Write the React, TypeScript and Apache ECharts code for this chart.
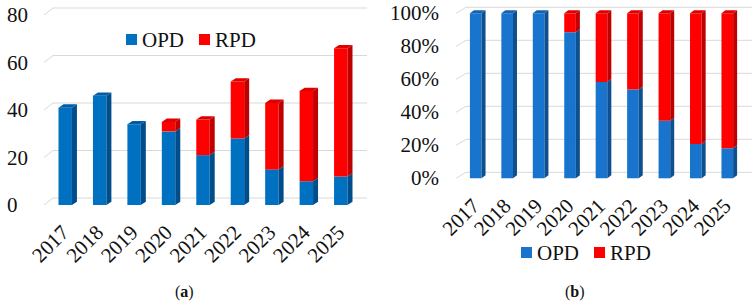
import React, { useEffect, useRef } from "react";
import * as echarts from "echarts";

const years = ["2017", "2018", "2019", "2020", "2021", "2022", "2023", "2024", "2025"];
const opd = [41, 46, 34, 31, 21, 28, 15, 10, 12];
const rpd = [0, 0, 0, 4, 15, 24, 28, 38, 54];
const ticksA = [0, 20, 40, 60, 80];
const ticksB = [0, 20, 40, 60, 80, 100];

const FONT = "Liberation Serif";
const TXT = "#111";
const FS = 21;

// derived shares for panel (b)
const opdPct = opd.map((v, i) => (v / (v + rpd[i])) * 100);
const rpdPct = rpd.map((v, i) => (v / (v + opd[i])) * 100);

function segs(lo: number[], hi: number[], topFlag: boolean[]) {
  return lo.map((l, i) => [i, l, hi[i], topFlag[i] ? 1 : 0]);
}

function barRenderer(front: string, side: string, top: string, ratio: number, dx: number, dy: number) {
  return (params: any, api: any) => {
    const i = api.value(0);
    const lo = api.value(1);
    const hi = api.value(2);
    const isTop = api.value(3);
    if (!(hi > lo)) return null;
    const bw = api.size([1, 0])[0] * ratio;
    const pHi = api.coord([i, hi]);
    const pLo = api.coord([i, lo]);
    const cx = pHi[0];
    const y1 = pHi[1];
    const y0 = pLo[1];
    const x0 = cx - bw / 2;
    const x1 = cx + bw / 2;
    const children: any[] = [
      { type: "rect", shape: { x: x0, y: y1, width: bw, height: y0 - y1 }, style: { fill: front } },
      {
        type: "polygon",
        shape: { points: [[x1, y1], [x1 + dx, y1 - dy], [x1 + dx, y0 - dy], [x1, y0]] },
        style: { fill: side },
      },
    ];
    if (isTop) {
      children.push({
        type: "polygon",
        shape: { points: [[x0, y1], [x0 + dx, y1 - dy], [x1 + dx, y1 - dy], [x1, y1]] },
        style: { fill: top },
      });
    }
    return { type: "group", children };
  };
}

function gridRenderer(offL: number, dx: number, dy: number, extR: number) {
  return (params: any, api: any) => {
    const cs = params.coordSys;
    const y = api.coord([0, api.value(1)])[1];
    return {
      type: "polyline",
      shape: {
        points: [
          [cs.x - offL, y],
          [cs.x + dx, y - dy],
          [cs.x + cs.width + extR, y - dy],
        ],
      },
      style: { stroke: "#d9d9d9", lineWidth: 1, fill: "none" },
    };
  };
}

export default function App() {
  const ref = useRef<HTMLDivElement>(null);
  useEffect(() => {
    if (!ref.current) return;
    const chart = echarts.init(ref.current, undefined, { renderer: "svg" });
    const total = opd.map((v, i) => v + rpd[i]);
    const rpdPresent = rpd.map((v) => v > 0);
    const opdTop = rpdPresent.map((p) => !p);

    const axisLabelX = {
      rotate: 45,
      fontSize: FS,
      fontFamily: FONT,
      color: TXT,
      margin: 24,
      interval: 0,
    };

    const option: any = {
      animation: false,
      textStyle: { fontFamily: FONT },
      grid: [
        { left: 48, top: 15, width: 310, height: 190 },
        { left: 460, top: 13.3, width: 283, height: 165 },
      ],
      xAxis: [
        {
          type: "category",
          gridIndex: 0,
          data: years,
          axisLine: { show: false },
          axisTick: { show: false },
          axisLabel: axisLabelX,
        },
        {
          type: "category",
          gridIndex: 1,
          data: years,
          axisLine: { show: false },
          axisTick: { show: false },
          axisLabel: axisLabelX,
        },
      ],
      yAxis: [
        {
          type: "value",
          gridIndex: 0,
          min: 0,
          max: 80,
          interval: 20,
          splitLine: { show: false },
          axisLine: { show: false },
          axisTick: { show: false },
          axisLabel: {
            fontSize: FS,
            fontFamily: FONT,
            color: TXT,
            align: "left",
            margin: 41,
            padding: [5, 0, 0, 0],
          },
        },
        {
          type: "value",
          gridIndex: 1,
          min: 0,
          max: 100,
          interval: 20,
          splitLine: { show: false },
          axisLine: { show: false },
          axisTick: { show: false },
          axisLabel: {
            fontSize: FS,
            fontFamily: FONT,
            color: TXT,
            formatter: "{value}%",
            margin: 21,
            padding: [5, 0, 0, 0],
          },
        },
      ],
      legend: [
        {
          left: 121,
          top: 24,
          icon: "rect",
          itemWidth: 11,
          itemHeight: 11,
          itemGap: 15,
          textStyle: { fontSize: FS, fontFamily: FONT, color: TXT },
          data: [
            { name: "OPD", itemStyle: { color: "#0070c0" } },
            { name: "RPD", itemStyle: { color: "#ff0000" } },
          ],
          selectedMode: false,
        },
        {
          left: 516,
          top: 237,
          icon: "rect",
          itemWidth: 11,
          itemHeight: 11,
          itemGap: 15,
          textStyle: { fontSize: FS, fontFamily: FONT, color: TXT },
          data: [
            { name: "OPD", itemStyle: { color: "#1874cd" } },
            { name: "RPD", itemStyle: { color: "#ff0000" } },
          ],
          selectedMode: false,
        },
      ],
      series: [
        {
          type: "custom",
          xAxisIndex: 0,
          yAxisIndex: 0,
          z: 1,
          silent: true,
          renderItem: gridRenderer(4, 5, 7, 9),
          data: ticksA.map((t) => [0, t]),
        },
        {
          type: "custom",
          name: "OPD",
          xAxisIndex: 0,
          yAxisIndex: 0,
          z: 2,
          itemStyle: { color: "#0070c0" },
          renderItem: barRenderer("#0070c0", "#004d8c", "#005ea6", 0.39, 5, 3.3),
          encode: { x: 0, y: [1, 2] },
          data: segs(opd.map(() => 0), opd, opdTop),
        },
        {
          type: "custom",
          name: "RPD",
          xAxisIndex: 0,
          yAxisIndex: 0,
          z: 2,
          itemStyle: { color: "#ff0000" },
          renderItem: barRenderer("#ff0000", "#c00000", "#e00000", 0.39, 5, 3.3),
          encode: { x: 0, y: [1, 2] },
          data: segs(opd, total, rpdPresent),
        },
        {
          type: "custom",
          xAxisIndex: 1,
          yAxisIndex: 1,
          z: 1,
          silent: true,
          renderItem: gridRenderer(4, 6, 6, 9),
          data: ticksB.map((t) => [0, t]),
        },
        {
          type: "custom",
          name: "OPD",
          xAxisIndex: 1,
          yAxisIndex: 1,
          z: 2,
          itemStyle: { color: "#1874cd" },
          renderItem: barRenderer("#1874cd", "#0e4f8f", "#1463b3", 0.37, 4, 3),
          encode: { x: 0, y: [1, 2] },
          data: segs(opdPct.map(() => 0), opdPct, opdTop),
        },
        {
          type: "custom",
          name: "RPD",
          xAxisIndex: 1,
          yAxisIndex: 1,
          z: 2,
          itemStyle: { color: "#ff0000" },
          renderItem: barRenderer("#ff0000", "#c00000", "#e00000", 0.37, 4, 3),
          encode: { x: 0, y: [1, 2] },
          data: segs(opdPct, opdPct.map((v, i) => v + rpdPct[i]), rpdPresent),
        },
      ],
      graphic: [
        {
          type: "text",
          left: 175,
          top: 283,
          style: {
            text: "({b|a})",
            font: `16px ${FONT}`,
            fill: TXT,
            rich: { b: { fontWeight: "bold", fontSize: 16, fontFamily: FONT, fill: TXT } },
          },
        },
        {
          type: "text",
          left: 565,
          top: 283,
          style: {
            text: "({b|b})",
            font: `16px ${FONT}`,
            fill: TXT,
            rich: { b: { fontWeight: "bold", fontSize: 16, fontFamily: FONT, fill: TXT } },
          },
        },
      ],
    };
    chart.setOption(option);
    return () => chart.dispose();
  }, []);
  return (
    <div
      ref={ref}
      style={{ position: "absolute", left: 0, top: 0, width: 756, height: 306, background: "#fff" }}
    />
  );
}
